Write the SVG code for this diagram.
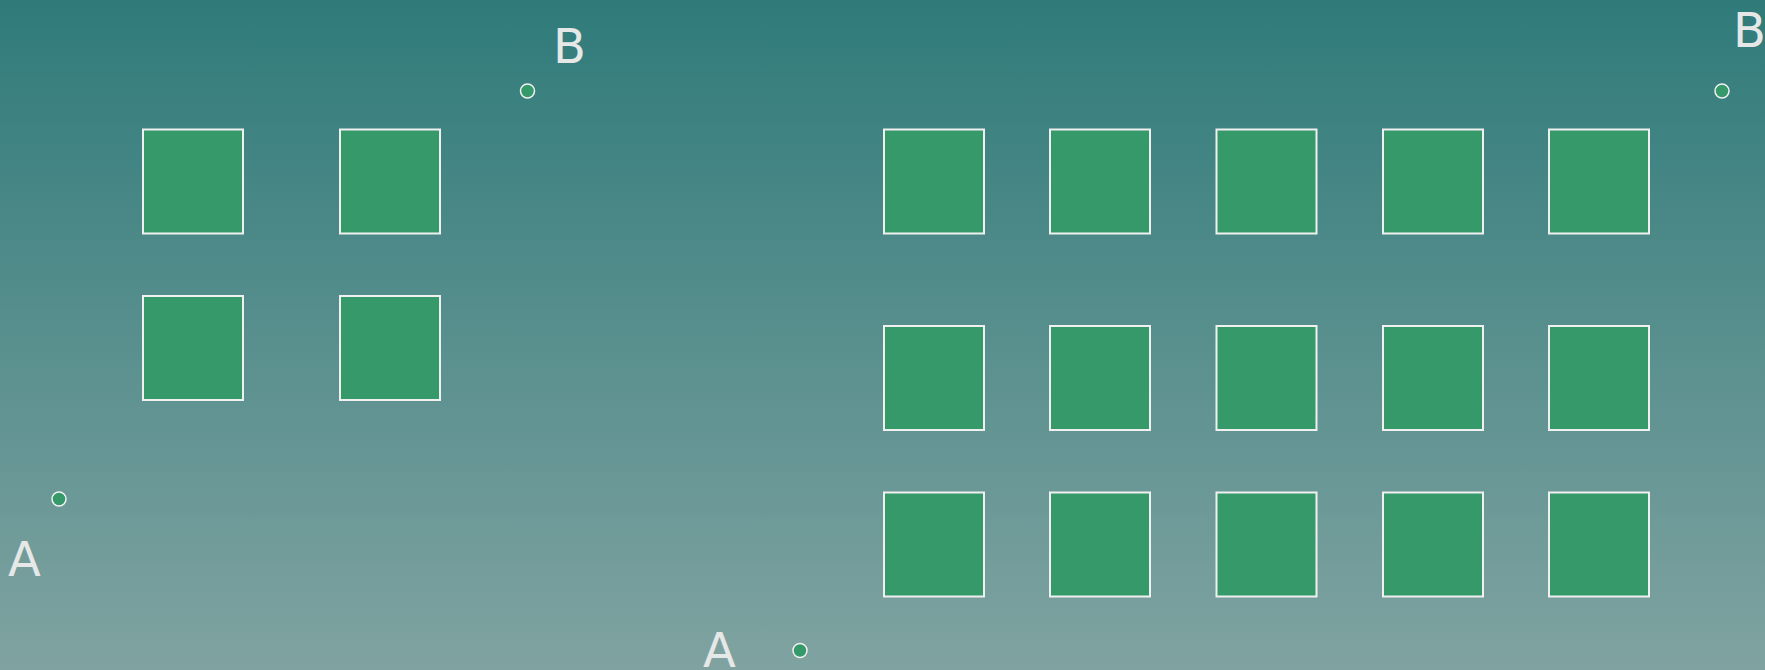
<svg xmlns="http://www.w3.org/2000/svg" width="1765" height="670" viewBox="0 0 1765 670">
<defs>
<linearGradient id="bg" x1="0" y1="0" x2="0" y2="1">
<stop offset="0" stop-color="#2f7b7a"/>
<stop offset="1" stop-color="#80a3a1"/>
</linearGradient>
</defs>
<style>
.box{fill:#35996a;stroke:#f0f0f0;stroke-width:2}
.pt{fill:#35996a;stroke:#f0f0f0;stroke-width:1.5}
.lbl{font-family:"DejaVu Sans",sans-serif;font-size:48px;fill:#e6e8e8}
</style>
<rect width="1765" height="670" fill="url(#bg)"/>
<g id="left-group">
<rect id="l1" class="box" x="143" y="129.5" width="100" height="104"/>
<rect id="l2" class="box" x="340" y="129.5" width="100" height="104"/>
<rect id="l3" class="box" x="143" y="296" width="100" height="104"/>
<rect id="l4" class="box" x="340" y="296" width="100" height="104"/>
</g>
<g id="right-group">
<rect class="box" x="884" y="129.5" width="100" height="104"/>
<rect class="box" x="1050" y="129.5" width="100" height="104"/>
<rect class="box" x="1216.5" y="129.5" width="100" height="104"/>
<rect class="box" x="1383" y="129.5" width="100" height="104"/>
<rect class="box" x="1549" y="129.5" width="100" height="104"/>
<rect class="box" x="884" y="326" width="100" height="104"/>
<rect class="box" x="1050" y="326" width="100" height="104"/>
<rect class="box" x="1216.5" y="326" width="100" height="104"/>
<rect class="box" x="1383" y="326" width="100" height="104"/>
<rect class="box" x="1549" y="326" width="100" height="104"/>
<rect class="box" x="884" y="492.5" width="100" height="104"/>
<rect class="box" x="1050" y="492.5" width="100" height="104"/>
<rect class="box" x="1216.5" y="492.5" width="100" height="104"/>
<rect class="box" x="1383" y="492.5" width="100" height="104"/>
<rect class="box" x="1549" y="492.5" width="100" height="104"/>
</g>
<g id="points">
<circle class="pt" cx="527.5" cy="91" r="7"/>
<circle class="pt" cx="59" cy="499" r="7"/>
<circle class="pt" cx="800" cy="650.5" r="7"/>
<circle class="pt" cx="1722" cy="91" r="7"/>
</g>
<g id="labels">
<text class="lbl" x="553" y="62.5">B</text>
<text class="lbl" x="1733" y="46.5">B</text>
<text class="lbl" x="8" y="576">A</text>
<text class="lbl" x="703" y="667">A</text>
</g>
</svg>
